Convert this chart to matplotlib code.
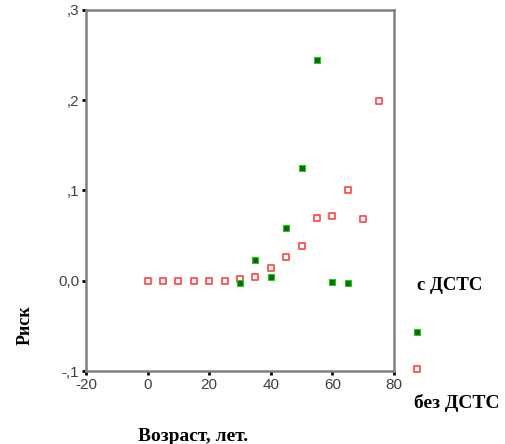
import matplotlib.pyplot as plt
import matplotlib.ticker as mticker

# возраст / риск
age_no = [0, 5, 10, 15, 20, 25, 30, 35, 40, 45, 50, 55, 60, 65, 70, 75]
risk_no = [0.0, 0.0, 0.0, 0.0, 0.0, 0.0, 0.002, 0.004, 0.014, 0.026, 0.038,
           0.070, 0.072, 0.100, 0.068, 0.199]
age_with = [30, 35, 40, 45, 50, 55, 60, 65]
risk_with = [-0.002, 0.023, 0.004, 0.059, 0.125, 0.245, -0.001, -0.002]

xticks = [-20, 0, 20, 40, 60, 80]
yticks = [-0.1, 0.0, 0.1, 0.2, 0.3]
ytick_labels = ['-,1', '0,0', ',1', ',2', ',3']

plt.rcParams['font.family'] = ['Liberation Sans', 'DejaVu Sans']
plt.rcParams['axes.unicode_minus'] = False

fig = plt.figure(figsize=(5.05, 4.44), dpi=100)
ax = fig.add_axes([0.1703, 0.1644, 0.6099, 0.8131])

ax.scatter(age_no, risk_no, marker='s', s=21, facecolors='white',
           edgecolors='#ff5050', linewidths=1.3, zorder=3)
ax.scatter(age_with, risk_with, marker='s', s=25, facecolors='#007000',
           edgecolors='#30c030', linewidths=0.8, zorder=4)

ax.set_xlim(-20, 80)
ax.set_ylim(-0.1, 0.3)
ax.set_xticks(xticks)
ax.set_yticks(yticks)
ax.yaxis.set_major_formatter(mticker.FixedFormatter(ytick_labels))
ax.tick_params(direction='out', length=3, width=2, color='black',
               labelsize=11, labelcolor='#404040', pad=2)
for s in ax.spines.values():
    s.set_color('#808080')
    s.set_linewidth(1.8)

serif = ['Liberation Serif', 'DejaVu Serif']
fig.text(0.05, 0.268, 'Риск', rotation=90, ha='center', va='center',
         fontsize=13, fontweight='bold', family=serif)
fig.text(0.383, 0.016, 'Возраст, лет.', ha='center', va='center',
         fontsize=14, fontweight='bold', family=serif)

# легенда
fig.text(0.826, 0.358, 'с ДСТС', ha='left', va='center',
         fontsize=13.5, fontweight='bold', family=serif)
fig.text(0.820, 0.092, 'без ДСТС', ha='left', va='center',
         fontsize=14, fontweight='bold', family=serif)
leg_ax = fig.add_axes([0.80, 0.15, 0.05, 0.15])
leg_ax.set_axis_off()
leg_ax.set_xlim(0, 1)
leg_ax.set_ylim(0, 1)
leg_ax.scatter([0.5], [0.68], marker='s', s=25, facecolors='#007000',
               edgecolors='#30c030', linewidths=0.8)
leg_ax.scatter([0.5], [0.12], marker='s', s=21, facecolors='white',
               edgecolors='#ff5050', linewidths=1.3)

fig.savefig('out.png', dpi=100, facecolor='white')
